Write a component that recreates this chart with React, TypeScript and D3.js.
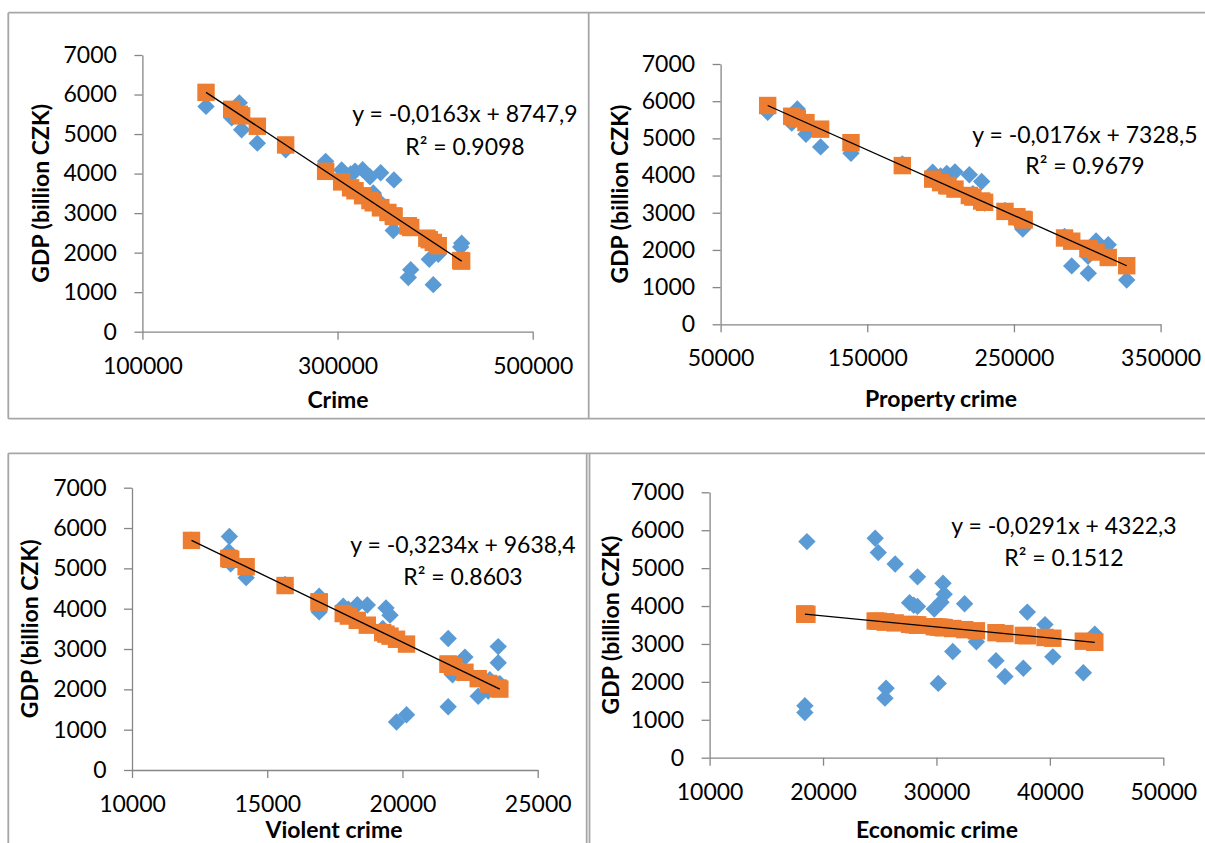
import React, { useEffect, useRef } from 'react';
import * as d3 from 'd3';

// GDP (billion CZK), one value per year 1993..2020 (same for all four panels)
const gdp = [1190, 1370, 1570, 1830, 1960, 2140, 2240, 2360, 2560, 2660, 2800, 3060, 3260, 3510, 3840,
	4020, 3920, 3990, 4060, 4090, 4100, 4310, 4600, 4770, 5110, 5410, 5790, 5700];

// x values and fitted GDP (orange squares) per panel, same year order
const crime = [398100, 372500, 375000, 394000, 403200, 426200, 427200, 391500, 357100, 372300, 357700, 351600, 344000, 336600,
	357800, 344200, 333200, 313400, 317900, 304200, 325700, 287800, 246800, 217800, 201700, 191500, 199300, 165200];
const crimeFit = [2259, 2676, 2635, 2326, 2176, 1801, 1785, 2366, 2927, 2679, 2917, 3017, 3141, 3261,
	2916, 3137, 3317, 3640, 3566, 3789, 3439, 4057, 4725, 5198, 5460, 5626, 5499, 6055];

const propertyCrime = [326900, 300700, 289400, 300500, 301400, 314300, 306000, 284500, 256000, 257000, 252000, 243900, 230000, 222000,
	228000, 219600, 205000, 200000, 204200, 194600, 209800, 173900, 138900, 118200, 108200, 98500, 102300, 82100];
const propertyFit = [1575, 2036, 2235, 2040, 2024, 1797, 1943, 2321, 2823, 2805, 2893, 3036, 3281, 3421,
	3316, 3464, 3721, 3809, 3735, 3904, 3636, 4268, 4884, 5248, 5424, 5595, 5528, 5884];

const violentCrime = [19780, 20150, 21690, 22800, 23170, 23600, 23230, 21850, 21900, 23540, 22310, 23540, 21690, 19270,
	19540, 19390, 16920, 18000, 17810, 18700, 18330, 16920, 15660, 14220, 13650, 13580, 13600, 12200];
const violentFit = [3242, 3122, 2624, 2265, 2145, 2006, 2126, 2572, 2556, 2026, 2423, 2026, 2624, 3407,
	3319, 3368, 4167, 3817, 3879, 3591, 3711, 4167, 4574, 5040, 5224, 5247, 5240, 5693];

const economicCrime = [18400, 18400, 25460, 25560, 30160, 36040, 42950, 37660, 35250, 40260, 31440, 33520, 43960, 39570,
	38010, 28000, 29810, 28330, 32480, 27630, 30400, 30680, 30580, 28330, 26360, 24870, 24600, 18580];
const economicFit = [3787, 3787, 3581, 3579, 3445, 3274, 3073, 3226, 3297, 3151, 3407, 3347, 3043, 3171,
	3216, 3508, 3455, 3498, 3377, 3518, 3438, 3430, 3432, 3498, 3555, 3599, 3606, 3782];

const gdpTicks = [0, 1000, 2000, 3000, 4000, 5000, 6000, 7000];
const crimeTicks = [100000, 300000, 500000];
const propertyTicks = [50000, 150000, 250000, 350000];
const violentTicks = [10000, 15000, 20000, 25000];
const economicTicks = [10000, 20000, 30000, 40000, 50000];

const titles = ['Crime', 'Property crime', 'Violent crime', 'Economic crime'];
const equations = ['y = -0,0163x + 8747,9', 'y = -0,0176x + 7328,5', 'y = -0,3234x + 9638,4', 'y = -0,0291x + 4322,3'];
const rSquared = ['R² = 0.9098', 'R² = 0.9679', 'R² = 0.8603', 'R² = 0.1512'];

const panels = [
	{ xs: crime, fit: crimeFit, ticks: crimeTicks, x0: 142.4, x1: 532.7, yBottom: 331.7, yTop: 55, titleX: 338, titleY: 408, gdpX: 41, eqX: 465, eqY: 121.7, r2Y: 155 },
	{ xs: propertyCrime, fit: propertyFit, ticks: propertyTicks, x0: 720.6, x1: 1160.6, yBottom: 324.3, yTop: 64, titleX: 941, titleY: 407, gdpX: 619.5, eqX: 1085, eqY: 143, r2Y: 174 },
	{ xs: violentCrime, fit: violentFit, ticks: violentTicks, x0: 132, x1: 537.7, yBottom: 770, yTop: 487.7, titleX: 334, titleY: 838, gdpX: 30, eqX: 463, eqY: 552.7, r2Y: 585 },
	{ xs: economicCrime, fit: economicFit, ticks: economicTicks, x0: 709.6, x1: 1163.3, yBottom: 757.7, yTop: 492.3, titleX: 937, titleY: 838, gdpX: 610.5, eqX: 1064, eqY: 534, r2Y: 565.7 },
];

const W = 1205;
const H = 843;
const FONT = 'Lato, "Open Sans", sans-serif';
const BLUE = '#5B9BD5';
const ORANGE = '#ED7D31';

const App: React.FC = () => {
	const svgRef = useRef<SVGSVGElement | null>(null);

	useEffect(() => {
		if (!svgRef.current) return;
		const svg = d3.select(svgRef.current);
		svg.selectAll('*').remove();

		svg.append('rect').attr('width', W).attr('height', H).attr('fill', '#fff');

		// panel frames
		const frame = svg.append('g').attr('stroke', '#a6a6a6').attr('stroke-width', 1.8).attr('fill', 'none');
		const segs: [number, number, number, number][] = [
			[8.3, 12.7, W, 12.7], [8.3, 12.7, 8.3, 418.7], [588.7, 12.7, 588.7, 418.7], [8.3, 418.7, W, 418.7],
			[8.3, 453.3, W, 453.3], [8.3, 453.3, 8.3, H], [586.7, 453.3, 586.7, H], [589.5, 453.3, 589.5, H],
		];
		segs.forEach(([a, b, c, d]) => frame.append('line').attr('x1', a).attr('y1', b).attr('x2', c).attr('y2', d));

		const diamond = (r: number) => `M0,${-r}L${r},0L0,${r}L${-r},0Z`;

		panels.forEach((p, i) => {
			const x = d3.scaleLinear().domain([p.ticks[0], p.ticks[p.ticks.length - 1]]).range([p.x0, p.x1]);
			const y = d3.scaleLinear().domain([0, 7000]).range([p.yBottom, p.yTop]);
			const g = svg.append('g');

			// y axis
			g.append('g')
				.attr('transform', `translate(${p.x0},0)`)
				.call(d3.axisLeft(y).tickValues(gdpTicks).tickSize(8).tickSizeOuter(0).tickPadding(17.5).tickFormat(d3.format('d')))
				.call(a => a.selectAll('line, path').attr('stroke', '#868686').attr('stroke-width', 1.3))
				.call(a => a.selectAll('text').attr('fill', '#000').attr('font-size', 23).attr('font-family', FONT));

			// x axis
			g.append('g')
				.attr('transform', `translate(0,${p.yBottom})`)
				.call(d3.axisBottom(x).tickValues(p.ticks).tickSize(8).tickSizeOuter(0).tickPadding(17.5).tickFormat(d3.format('d')))
				.call(a => a.selectAll('line, path').attr('stroke', '#868686').attr('stroke-width', 1.3))
				.call(a => a.selectAll('text').attr('fill', '#000').attr('font-size', 23).attr('font-family', FONT));

			// actual GDP (blue diamonds)
			g.append('g').selectAll('path')
				.data(p.xs)
				.join('path')
				.attr('d', diamond(8.7))
				.attr('transform', (d, k) => `translate(${x(d)},${y(gdp[k])})`)
				.attr('fill', BLUE);

			// predicted GDP (orange squares)
			g.append('g').selectAll('rect')
				.data(p.xs)
				.join('rect')
				.attr('x', d => x(d) - 8.7)
				.attr('y', (_, k) => y(p.fit[k]) - 8.7)
				.attr('width', 17.4)
				.attr('height', 17.4)
				.attr('fill', ORANGE);

			// linear trendline through the fitted points
			const pts = p.xs.map((d, k) => [d, p.fit[k]] as [number, number]).sort((a, b) => a[0] - b[0]);
			const ends = [pts[0], pts[pts.length - 1]];
			g.append('path')
				.datum(ends)
				.attr('d', d3.line<[number, number]>().x(d => x(d[0])).y(d => y(d[1])))
				.attr('stroke', '#000')
				.attr('stroke-width', 1.3)
				.attr('fill', 'none');

			// equation + R²
			g.append('text')
				.attr('x', p.eqX).attr('y', p.eqY)
				.attr('text-anchor', 'middle').attr('font-size', 23).attr('font-family', FONT)
				.text(equations[i]);
			g.append('text')
				.attr('x', p.eqX).attr('y', p.r2Y)
				.attr('text-anchor', 'middle').attr('font-size', 23).attr('font-family', FONT)
				.text(rSquared[i]);

			// axis titles
			g.append('text')
				.attr('x', p.titleX).attr('y', p.titleY)
				.attr('text-anchor', 'middle').attr('font-size', 23).attr('font-weight', 'bold').attr('font-family', FONT)
				.text(titles[i]);
			const cy = (p.yBottom + p.yTop) / 2;
			g.append('text')
				.attr('transform', `translate(${p.gdpX},${cy}) rotate(-90)`)
				.attr('dy', '0.35em')
				.attr('text-anchor', 'middle').attr('font-size', 23).attr('font-weight', 'bold').attr('font-family', FONT)
				.text('GDP (billion CZK)');
		});
	}, []);

	return (
		<svg ref={svgRef} width={W} height={H}
			style={{ position: 'absolute', left: 0, top: 0, display: 'block' }} />
	);
};

export default App;
